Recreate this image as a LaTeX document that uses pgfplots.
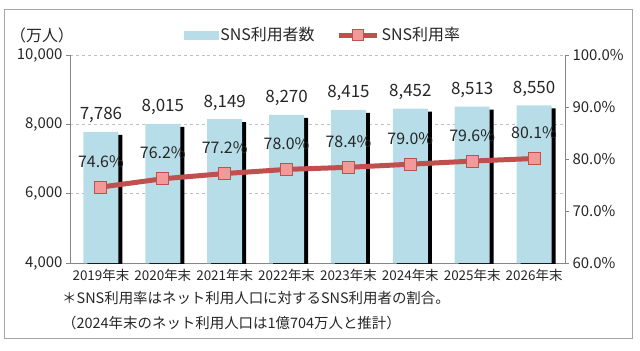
\documentclass[border=0pt]{standalone}
\usepackage{pgfplots}
\pgfplotsset{compat=1.18}
\usepackage{fontspec}
\setmainfont{Noto Sans CJK JP}
\definecolor{barblue}{HTML}{B7DEE8}
\definecolor{linered}{HTML}{C0504D}
\definecolor{mkpink}{HTML}{F29A9A}
\definecolor{axgray}{HTML}{868686}
\definecolor{gridgray}{HTML}{BFBFBF}
\definecolor{framegray}{HTML}{A6A6A6}
\definecolor{txt}{HTML}{262626}
\begin{document}
\begin{tikzpicture}[x=1bp,y=1bp]
\path[use as bounding box] (0,0) rectangle (640,350);
\draw[color=framegray, line width=1bp] (4,12) rectangle (632,340);
\begin{axis}[
  at={(70bp,87bp)}, anchor=south west,
  scale only axis, width=495bp, height=208bp,
  xmin=-0.5, xmax=7.5, ymin=4000, ymax=10000,
  scaled y ticks=false,
  axis x line*=bottom, axis y line*=left,
  axis line style={axgray, line width=0.8bp, -},
  ytick={4000,6000,8000,10000},
  yticklabels={{4,000},{6,000},{8,000},{10,000}},
  ymajorgrids, grid style={gridgray, dashed, line width=0.6bp},
  tick align=outside, major tick length=4bp,
  tick style={axgray, line width=0.8bp},
  xtick={0,...,7},
  xticklabels={2019年末,2020年末,2021年末,2022年末,2023年末,2024年末,2025年末,2026年末},
  x tick style={draw=none},
  extra x ticks={-0.5,0.5,1.5,2.5,3.5,4.5,5.5,6.5,7.5},
  extra x tick labels={},
  extra x tick style={grid=none, tick style={axgray, line width=0.8bp, draw=axgray}, major tick length=4bp},
  x tick label style={font=\fontsize{13.5}{14}\selectfont, text=txt, yshift=1bp},
  y tick label style={font=\fontsize{15}{16}\selectfont, text=txt},
  enlargelimits=false,
]
\addplot[ybar, bar width=35bp, fill=barblue, draw=none,
  preaction={fill=black, transform canvas={xshift=4bp, yshift=-3bp}},
  nodes near coords, point meta=explicit symbolic,
  every node near coord/.append style={font=\fontsize{17}{18}\selectfont, text=txt, anchor=base, inner sep=0pt, yshift=12bp}]
  coordinates {
  (0,7786) [7,786]
  (1,8015) [8,015]
  (2,8149) [8,149]
  (3,8270) [8,270]
  (4,8415) [8,415]
  (5,8452) [8,452]
  (6,8513) [8,513]
  (7,8550) [8,550]
  };
\end{axis}
\begin{axis}[
  at={(70bp,87bp)}, anchor=south west,
  scale only axis, width=495bp, height=208bp,
  xmin=-0.5, xmax=7.5, ymin=60, ymax=100,
  axis x line=none, axis y line*=right,
  axis line style={axgray, line width=0.8bp, -},
  ytick={60,70,80,90,100},
  yticklabels={60.0\%,70.0\%,80.0\%,90.0\%,100.0\%},
  tick align=outside, major tick length=4bp,
  tick style={axgray, line width=0.8bp},
  y tick label style={font=\fontsize{15}{16}\selectfont, text=txt},
  enlargelimits=false,
  legend columns=2,
  legend style={at={(0.511,1.096)}, anchor=center, draw=none, fill=none,
    font=\fontsize{16}{17}\selectfont, text=txt,
    /tikz/every even column/.append style={column sep=20bp}},
]
\addlegendimage{legend image code/.code={\fill[barblue] (0bp,-4bp) rectangle (34bp,4bp);}}
\addlegendentry{SNS利用者数}
\addplot[linered, line width=5bp, mark=square*,
  mark options={fill=mkpink, draw=linered, line width=1bp, mark size=6bp},
  nodes near coords, point meta=explicit symbolic,
  every node near coord/.append style={font=\fontsize{16}{17}\selectfont, text=txt, anchor=base, inner sep=0pt, yshift=20bp},
  legend image code/.code={\draw[linered, line width=5bp] (0bp,0bp) -- (38bp,0bp);
    \draw[linered, fill=mkpink, line width=1bp] (13bp,-5.5bp) rectangle (24bp,5.5bp);}]
  coordinates {
  (0,74.6) [74.6\%]
  (1,76.2) [76.2\%]
  (2,77.2) [77.2\%]
  (3,78.0) [78.0\%]
  (4,78.4) [78.4\%]
  (5,79.0) [79.0\%]
  (6,79.6) [79.6\%]
  (7,80.1) [80.1\%]
  };
\addlegendentry{SNS利用率}
\end{axis}
\node[font=\fontsize{16}{17}\selectfont, text=txt] at (42,315) {（万人）};
\node[font=\fontsize{14.5}{15}\selectfont, text=txt, anchor=base west, inner sep=0pt] at (62,47) {＊SNS利用率はネット利用人口に対するSNS利用者の割合。};
\node[font=\fontsize{14.5}{15}\selectfont, text=txt, anchor=base west, inner sep=0pt] at (62,22) {（2024年末のネット利用人口は1億704万人と推計）};
\end{tikzpicture}
\end{document}
